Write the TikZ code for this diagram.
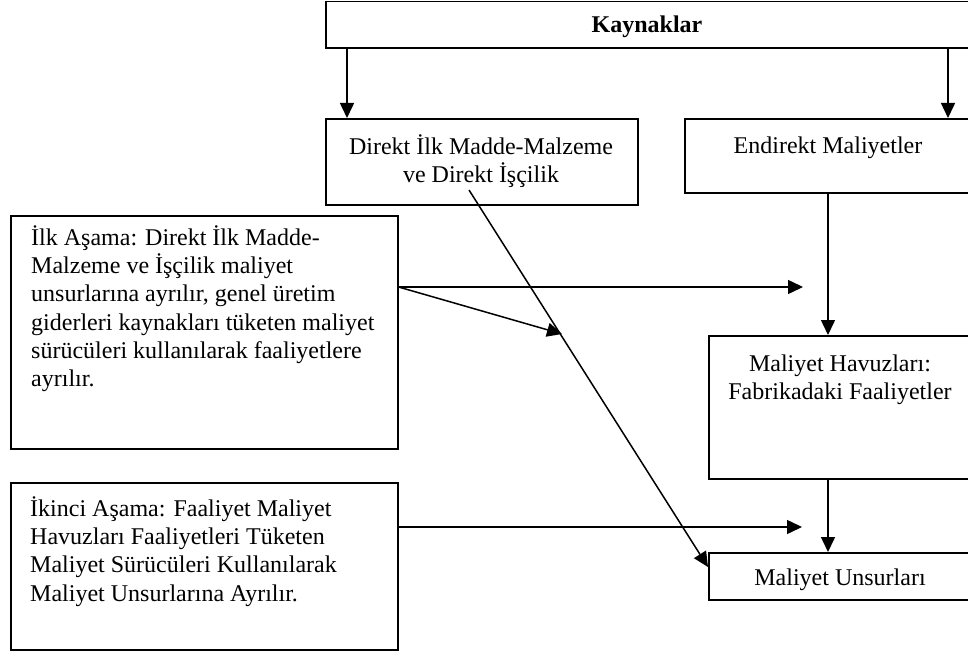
\documentclass[tikz,border=0pt]{standalone}
\usepackage{fontspec}
\setmainfont{Liberation Serif}
\usetikzlibrary{arrows.meta}
\begin{document}
\begin{tikzpicture}[x=1pt,y=-1pt,
  box/.style={draw=black, line width=1.6pt, inner sep=0pt, anchor=north west},
  txt/.style={inner sep=0pt, font=\fontsize{24}{28.3}\selectfont},
  conn/.style={draw=black, line width=1.5pt},
  arr/.style={conn, -{Triangle[length=15pt,width=14pt]}}]
\useasboundingbox (0,0) rectangle (968,652);
\clip (0,0) rectangle (968,652);
% boxes
\node[box, minimum width=660pt, minimum height=46.2pt] (kay) at (325,0.8) {};
\node[box, minimum width=312pt, minimum height=86pt] (dir) at (325,118) {};
\node[box, minimum width=301pt, minimum height=74pt] (end) at (684,118) {};
\node[box, minimum width=277pt, minimum height=143pt] (hav) at (708,335) {};
\node[box, minimum width=277pt, minimum height=47pt] (uns) at (708,552) {};
\node[box, minimum width=387pt, minimum height=233pt] (ilk) at (10,215) {};
\node[box, minimum width=387pt, minimum height=167pt] (iki) at (10,482) {};
% texts
\node[txt, anchor=base, font=\fontsize{24}{28.3}\selectfont\bfseries] (kayt) at (647,33) {Kaynaklar};
\node[txt, anchor=north, align=center] (dirt) at (481,134.2) {\strut Direkt İlk Madde-Malzeme\\ve Direkt İşçilik};
\node[txt, anchor=base] (endt) at (828,154) {Endirekt Maliyetler};
\node[txt, anchor=north, align=center] (havt) at (840,351.5) {\strut Maliyet Havuzları:\\Fabrikadaki Faaliyetler};
\node[txt, anchor=base] (unst) at (840,585) {Maliyet Unsurları};
\node[txt, anchor=north west, align=left] (ilkt) at (31,225.2) {\strut İlk Aşama: Direkt İlk Madde-\\Malzeme ve İşçilik maliyet\\unsurlarına ayrılır, genel üretim\\giderleri kaynakları tüketen maliyet\\sürücüleri kullanılarak faaliyetlere\\ayrılır.};
\node[txt, anchor=north west, align=left] (ikit) at (30,496.2) {\strut İkinci Aşama: Faaliyet Maliyet\\Havuzları Faaliyetleri Tüketen\\Maliyet Sürücüleri Kullanılarak\\Maliyet Unsurlarına Ayrılır.};
% helper coordinates
\coordinate (xa) at (347,0);
\coordinate (xb) at (948,0);
\coordinate (xc) at (828,0);
\coordinate (r1) at (803,287);
\coordinate (t1) at (562,334);
\coordinate (d1) at (469,190);
\coordinate (u1) at (0,567);
\coordinate (r2) at (802,527);
% connectors
\draw[arr] (kay.south -| xa) -- (dir.north -| xa);
\draw[arr] (kay.south -| xb) -- (end.north -| xb);
\draw[arr] (end.south -| xc) -- (hav.north -| xc);
\draw[arr] (hav.south -| xc) -- (uns.north -| xc);
\draw[arr] (ilk.east |- r1) -- (r1);
\draw[arr] (ilk.east |- r1) -- (t1);
\draw[arr] (d1) -- (uns.west |- u1);
\draw[arr] (iki.east |- r2) -- (r2);
\end{tikzpicture}
\end{document}
